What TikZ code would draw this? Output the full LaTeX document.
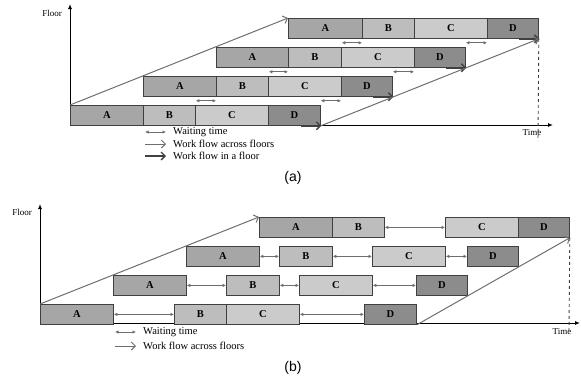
\documentclass[tikz,border=0pt]{standalone}
\usepackage{fontspec}
\setmainfont{Liberation Serif}
\newfontfamily\capfont{Liberation Sans}
\usetikzlibrary{arrows.meta}
\definecolor{cA}{HTML}{A6A6A6}
\definecolor{cB}{HTML}{BDBDBD}
\definecolor{cC}{HTML}{CBCBCB}
\definecolor{cD}{HTML}{8C8C8C}
\definecolor{edge}{HTML}{404040}
\definecolor{flow}{HTML}{6E6E6E}
\tikzset{
  blk/.style={draw=edge, line width=0.8pt, minimum height=20pt, inner sep=0pt,
    anchor=north west, font=\fontsize{10.5}{12}\selectfont\bfseries},
  axis/.style={draw=black, line width=0.9pt, -{Latex[length=5pt,width=4pt]}},
  wait/.style={draw=flow, line width=0.7pt, {Latex[length=3.5pt,width=3.5pt]}-{Latex[length=3.5pt,width=3.5pt]}},
  across/.style={draw=flow, line width=1pt, -{Straight Barb[length=4pt,width=8pt]}},
  infloor/.style={draw=edge, line width=1.4pt, -{Straight Barb[length=4pt,width=8pt]}},
  lbl/.style={font=\fontsize{10.5}{12}\selectfont, anchor=west, inner sep=0pt},
  small/.style={font=\fontsize{9}{10}\selectfont, inner sep=0pt},
  figcap/.style={font=\capfont\fontsize{14}{16}\selectfont, inner sep=0pt}
}
\newcommand\blk[6]{\node[blk, fill=#5, minimum width={(#3-#2)*1pt}] (#1) at (#2,#4) {#6};}
\begin{document}
\begin{tikzpicture}[x=1pt,y=-1pt]
\useasboundingbox (0,0) rectangle (581,381);
% ===== (a) =====
\coordinate (aO) at (70,125);
\coordinate (aY) at (70,4);
\coordinate (aX) at (553,125);
\draw[axis] (aO) -- (aY);
\draw[axis] (aO) -- (aX);
\node[small, anchor=east] (afloor) at (62,13) {Floor};
\node[small] (atime) at (532,133) {Time};
% rows
\blk{a1A}{70}{143}{105}{cA}{A}
\blk{a1B}{143}{195}{105}{cB}{B}
\blk{a1C}{195}{268}{105}{cC}{C}
\blk{a1D}{268}{320}{105}{cD}{D}
\blk{a2A}{143}{216}{76}{cA}{A}
\blk{a2B}{216}{268}{76}{cB}{B}
\blk{a2C}{268}{341}{76}{cC}{C}
\blk{a2D}{341}{392}{76}{cD}{D}
\blk{a3A}{216}{288}{47}{cA}{A}
\blk{a3B}{288}{341}{47}{cB}{B}
\blk{a3C}{341}{414}{47}{cC}{C}
\blk{a3D}{414}{465}{47}{cD}{D}
\blk{a4A}{288}{362}{18}{cA}{A}
\blk{a4B}{362}{414}{18}{cB}{B}
\blk{a4C}{414}{487}{18}{cC}{C}
\blk{a4D}{487}{538}{18}{cD}{D}
% work flow in a floor
\foreach \r in {1,2,3,4}{
  \draw[infloor, shorten >=-0.5pt] ([xshift=-20pt]a\r D.south east) -- (a\r D.south east);
}
% waiting times
\draw[wait] ([yshift=-4pt]a1B.south east |- a2A.south) -- ([yshift=-4pt]a2B.south west);
\draw[wait] ([yshift=-4pt]a1D.south east |- a2A.south) -- ([yshift=-4pt]a2D.south west);
\draw[wait] ([yshift=-4pt]a2B.south east |- a3A.south) -- ([yshift=-4pt]a3B.south west);
\draw[wait] ([yshift=-4pt]a2D.south east |- a3A.south) -- ([yshift=-4pt]a3D.south west);
\draw[wait] ([yshift=-4pt]a3B.south east |- a4A.south) -- ([yshift=-4pt]a4B.south west);
\draw[wait] ([yshift=-4pt]a3D.south east |- a4A.south) -- ([yshift=-4pt]a4D.south west);
% across floors
\draw[across] (a1A.north west) -- (a4A.north west);
\draw[across] (a1D.south east) -- (a4D.south east);
\coordinate (aDash) at (538,141);
\draw[edge, line width=0.9pt, dashed] (a4D.south east) -- (aDash);
% legend
\coordinate (aL1s) at (145,132); \coordinate (aL1e) at (166,132);
\coordinate (aL2s) at (145,144); \coordinate (aL2e) at (166,144);
\coordinate (aL3s) at (145,156); \coordinate (aL3e) at (166,156);
\draw[wait] (aL1s) -- (aL1e);
\draw[across] (aL2s) -- (aL2e);
\draw[infloor] (aL3s) -- (aL3e);
\node[lbl] (aT1) at (173,132) {Waiting time};
\node[lbl] (aT2) at (173,144) {Work flow across floors};
\node[lbl] (aT3) at (173,156) {Work flow in a floor};
\node[figcap] (acap) at (293,178) {(a)};
% ===== (b) =====
\coordinate (bO) at (40,323);
\coordinate (bY) at (40,204);
\coordinate (bX) at (580,323);
\draw[axis] (bO) -- (bY);
\draw[axis] (bO) -- (bX);
\node[small, anchor=east] (bfloor) at (32,212) {Floor};
\node[small] (btime) at (562,332) {Time};
\blk{b1A}{40}{113}{304}{cA}{A}
\blk{b1B}{174}{226}{304}{cB}{B}
\blk{b1C}{226}{299}{304}{cC}{C}
\blk{b1D}{364}{416}{304}{cD}{D}
\blk{b2A}{113}{186}{275}{cA}{A}
\blk{b2B}{226}{279}{275}{cB}{B}
\blk{b2C}{299}{372}{275}{cC}{C}
\blk{b2D}{416}{467}{275}{cD}{D}
\blk{b3A}{186}{259}{246}{cA}{A}
\blk{b3B}{279}{332}{246}{cB}{B}
\blk{b3C}{372}{445}{246}{cC}{C}
\blk{b3D}{467}{518}{246}{cD}{D}
\blk{b4A}{259}{332}{217}{cA}{A}
\blk{b4B}{332}{384}{217}{cB}{B}
\blk{b4C}{445}{518}{217}{cC}{C}
\blk{b4D}{518}{569}{217}{cD}{D}
\draw[wait] (b1A.east) -- (b1B.west);
\draw[wait] (b1C.east) -- (b1D.west);
\draw[wait] (b2A.east) -- (b2B.west);
\draw[wait] (b2B.east) -- (b2C.west);
\draw[wait] (b2C.east) -- (b2D.west);
\draw[wait] (b3A.east) -- (b3B.west);
\draw[wait] (b3B.east) -- (b3C.west);
\draw[wait] (b3C.east) -- (b3D.west);
\draw[wait] (b4B.east) -- (b4C.west);
\draw[across] (b1A.north west) -- (b4A.north west);
\draw[across] (b1D.south east) -- (b4D.south east);
\coordinate (bDash) at (569,333);
\draw[edge, line width=0.9pt, dashed] (b4D.south east) -- (bDash);
\coordinate (bL1s) at (115,332); \coordinate (bL1e) at (136,332);
\coordinate (bL2s) at (115,346); \coordinate (bL2e) at (136,346);
\draw[wait] (bL1s) -- (bL1e);
\draw[across] (bL2s) -- (bL2e);
\node[lbl] (bT1) at (143,332) {Waiting time};
\node[lbl] (bT2) at (143,346) {Work flow across floors};
\node[figcap] (bcap) at (293,368) {(b)};
\end{tikzpicture}
\end{document}
